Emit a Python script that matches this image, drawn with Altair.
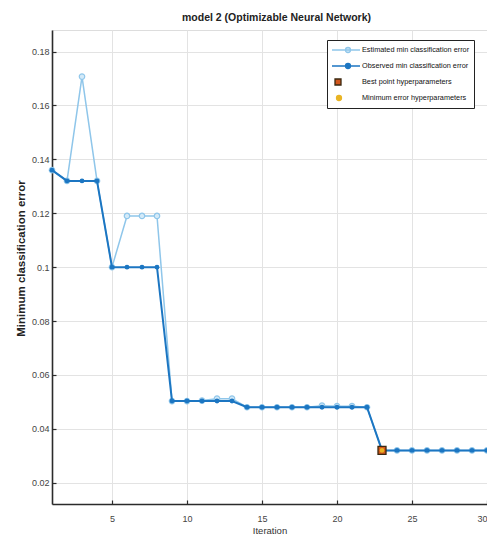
import altair as alt
import pandas as pd

# ---------------- data ----------------
iterations = list(range(1, 31))
estimated = [0.136, 0.132, 0.1707, 0.132, 0.100, 0.119, 0.119, 0.119, 0.0503, 0.0503,
             0.0505, 0.0512, 0.0512, 0.048, 0.048, 0.048, 0.048, 0.048, 0.0486, 0.0484,
             0.0484, 0.048, 0.032, 0.032, 0.032, 0.032, 0.032, 0.032, 0.032, 0.032]
observed = [0.136, 0.132, 0.132, 0.132, 0.100, 0.100, 0.100, 0.100, 0.0503, 0.0503,
            0.0503, 0.0503, 0.0503, 0.048, 0.048, 0.048, 0.048, 0.048, 0.048, 0.048,
            0.048, 0.048, 0.032, 0.032, 0.032, 0.032, 0.032, 0.032, 0.032, 0.032]
best_iter = [23]
best_value = [0.032]
minerr_iter = [23]
minerr_value = [0.032]
series_names = ["Estimated min classification error", "Observed min classification error",
                "Best point hyperparameters", "Minimum error hyperparameters"]
y_ticks = [0.02, 0.04, 0.06, 0.08, 0.1, 0.12, 0.14, 0.16, 0.18]
x_ticks = [5, 10, 15, 20, 25, 30]
title_text = "model 2 (Optimizable Neural Network)"

# ---------------- styles ----------------
W, H = 435, 474
EST = "#8fc6ea"
EST_FILL = "#d4eaf8"
OBS = "#1c76c2"
BEST_FILL = "#d2561c"
BEST_STROKE = "#3a2810"
MIN_FILL = "#e9b424"
FONT = "Liberation Sans"

df = pd.DataFrame({"iter": iterations, "est": estimated, "obs": observed})
df_best = pd.DataFrame({"iter": best_iter, "val": best_value})
df_min = pd.DataFrame({"iter": minerr_iter, "val": minerr_value})
df_leg = pd.DataFrame({"series": series_names})

xscale = alt.Scale(domain=[1, 30], nice=False, zero=False)
yscale = alt.Scale(domain=[0.0121, 0.188], nice=False, zero=False)

main_x_axis = alt.Axis(values=x_ticks, grid=True, gridColor="#e3e3e3", gridWidth=1,
                       ticks=False, tickSize=0, labelPadding=10, labelFontSize=9,
                       labelColor="#444444", labelFont=FONT, domainColor="#2b2b2b",
                       domainWidth=1.6, title="Iteration", titleFont=FONT,
                       titleFontSize=9.5, titleFontWeight="normal", titleColor="#333333",
                       titlePadding=2)
main_y_axis = alt.Axis(values=y_ticks, grid=True, gridColor="#e3e3e3", gridWidth=1,
                       ticks=False, tickSize=0, labelPadding=3, labelFontSize=9,
                       labelColor="#444444", labelFont=FONT, domainColor="#2b2b2b",
                       domainWidth=1.6, labelExpr="'' + datum.value",
                       title="Minimum classification error", titleFont=FONT,
                       titleFontSize=11.5, titleFontWeight="bold", titleColor="#222222",
                       titleX=-26, titleY=228, titleBaseline="bottom", titleAlign="center")
tick_x_axis = alt.Axis(orient="top", offset=-H, values=x_ticks, grid=False, labels=False,
                       domain=False, ticks=True, tickSize=4, tickColor="#2b2b2b",
                       tickWidth=1.2, title=None)
tick_y_axis = alt.Axis(orient="right", offset=-W, values=y_ticks, grid=False, labels=False,
                       domain=False, ticks=True, tickSize=4, tickColor="#2b2b2b",
                       tickWidth=1.2, title=None)

est_line = alt.Chart(df).mark_line(color=EST, strokeWidth=1.5).encode(
    x=alt.X("iter:Q", scale=xscale, axis=main_x_axis),
    y=alt.Y("est:Q", scale=yscale, axis=main_y_axis),
)
est_pts = alt.Chart(df).mark_point(shape="circle", size=30, filled=True, fill=EST_FILL,
                                   stroke=EST, strokeWidth=1.2, opacity=1).encode(
    x=alt.X("iter:Q", scale=xscale, axis=None),
    y=alt.Y("est:Q", scale=yscale, axis=None),
)
obs_line = alt.Chart(df).mark_line(color=OBS, strokeWidth=2).encode(
    x=alt.X("iter:Q", scale=xscale, axis=tick_x_axis),
    y=alt.Y("obs:Q", scale=yscale, axis=tick_y_axis),
)
obs_pts = alt.Chart(df).mark_point(shape="circle", size=24, filled=True, color=OBS,
                                   opacity=1).encode(
    x=alt.X("iter:Q", scale=xscale, axis=None),
    y=alt.Y("obs:Q", scale=yscale, axis=None),
)
best_pt = alt.Chart(df_best).mark_point(shape="square", size=64, filled=True, fill=BEST_FILL,
                                        stroke=BEST_STROKE, strokeWidth=1.3, opacity=1).encode(
    x=alt.X("iter:Q", scale=xscale, axis=None),
    y=alt.Y("val:Q", scale=yscale, axis=None),
)
min_pt = alt.Chart(df_min).mark_point(shape="circle", size=22, filled=True, fill=MIN_FILL,
                                      opacity=1).encode(
    x=alt.X("iter:Q", scale=xscale, axis=None),
    y=alt.Y("val:Q", scale=yscale, axis=None),
)

# legend symbols (custom paths; unit = 5 px with symbolSize 100)
P_LINE = "M-1,0L4.6,0M1.7,0A0.5,0.5,0,1,1,2.7,0A0.5,0.5,0,1,1,1.7,0Z"
P_SQUARE = "M-0.4,-0.6L0.8,-0.6L0.8,0.6L-0.4,0.6Z"
P_CIRCLE = "M-0.1,0A0.5,0.5,0,1,1,0.9,0A0.5,0.5,0,1,1,-0.1,0Z"

leg = alt.Legend(orient="none", legendX=275, legendY=10, title=None, symbolSize=100,
                 symbolStrokeWidth=1.3, symbolOpacity=1, labelOffset=19, labelFontSize=7.3,
                 labelFont=FONT, labelColor="#111111", labelLimit=400, padding=4,
                 rowPadding=4, fillColor="white", strokeColor="#222222", cornerRadius=0)

legend_layer = alt.Chart(df_leg).mark_point(opacity=0).encode(
    shape=alt.Shape("series:N", scale=alt.Scale(domain=series_names,
                    range=[P_LINE, P_LINE, P_SQUARE, P_CIRCLE]), legend=leg),
    stroke=alt.Stroke("series:N", scale=alt.Scale(domain=series_names,
                      range=[EST, OBS, BEST_STROKE, MIN_FILL]), legend=leg),
    fill=alt.Fill("series:N", scale=alt.Scale(domain=series_names,
                  range=[EST_FILL, OBS, BEST_FILL, MIN_FILL]), legend=leg),
)

chart = alt.layer(
    est_line, est_pts, obs_line, obs_pts, best_pt, min_pt, legend_layer
).resolve_axis(x="independent", y="independent").properties(
    width=W, height=H,
    title=alt.Title(title_text, font=FONT, fontSize=10.5, fontWeight="bold", color="#222222",
                    anchor="middle", frame="group", baseline="bottom", offset=9, dy=12, dx=7),
    autosize=alt.AutoSizeParams(type="none"),
    padding={"left": 44, "top": 22, "right": 0, "bottom": 30},
).configure_view(stroke=None).configure(background="white")

chart.save("out.html", embed_options={"renderer": "svg", "actions": False})
